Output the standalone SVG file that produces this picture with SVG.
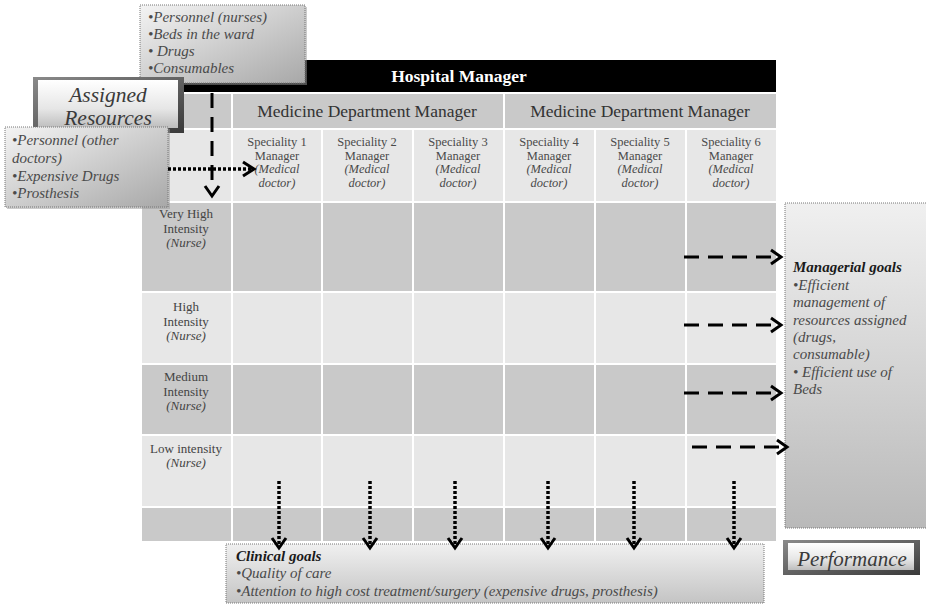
<svg xmlns="http://www.w3.org/2000/svg" width="926" height="606" viewBox="0 0 926 606">
  <style>
    .dk { fill: #c9c9c9; }
    .lt { fill: #e7e7e7; }
    .serif { font-family: "Liberation Serif", "DejaVu Serif", serif; }
    .spec { font-family: "Liberation Serif", "DejaVu Serif", serif; font-size: 12.5px; fill: #4a4a4a; text-anchor: middle; }
    .spec .i { font-style: italic; }
    .row { font-family: "Liberation Serif", "DejaVu Serif", serif; font-size: 13px; fill: #444; text-anchor: middle; }
    .row .i { font-style: italic; }
    .note { font-family: "Liberation Serif", "DejaVu Serif", serif; font-style: italic; fill: #4a4a4a; }
    .dash { fill: none; stroke: #000; stroke-width: 3; stroke-dasharray: 15 9; }
    .dot { fill: none; stroke: #000; stroke-width: 3.5; stroke-dasharray: 3 2; }
    .head { fill: none; stroke: #000; stroke-width: 3; stroke-linejoin: miter; }
    .dotted-frame { stroke: #777; stroke-width: 1; stroke-dasharray: 1 1; }
  </style>
  <defs>
    <linearGradient id="gBox" x1="0" y1="0" x2="0" y2="1">
      <stop offset="0" stop-color="#f0f0f0"/>
      <stop offset="1" stop-color="#b9b9b9"/>
    </linearGradient>
    <linearGradient id="gBoxDiag" x1="0" y1="0" x2="1" y2="1">
      <stop offset="0" stop-color="#f4f4f4"/>
      <stop offset="1" stop-color="#a8a8a8"/>
    </linearGradient>
    <linearGradient id="gSoft" x1="0" y1="0" x2="0" y2="1">
      <stop offset="0" stop-color="#f0f0f0"/>
      <stop offset="1" stop-color="#c4c4c4"/>
    </linearGradient>
    <linearGradient id="gBevel" x1="0" y1="0" x2="0" y2="1">
      <stop offset="0" stop-color="#ffffff"/>
      <stop offset="0.6" stop-color="#e6e6e6"/>
      <stop offset="1" stop-color="#bdbdbd"/>
    </linearGradient>
    <linearGradient id="gFrame" x1="0" y1="0" x2="1" y2="1">
      <stop offset="0" stop-color="#8a8a8a"/>
      <stop offset="1" stop-color="#3a3a3a"/>
    </linearGradient>
  </defs>

  <!-- matrix: hospital manager bar, departments, specialities, intensity rows -->
  <g id="matrix">
    <rect x="142" y="60" width="634" height="32" fill="#000"/>
    <text x="459" y="82" class="serif" font-size="17.5" font-weight="bold" fill="#fff" text-anchor="middle">Hospital Manager</text>

    <rect class="dk" x="142" y="94" width="89" height="34"/>
    <rect class="dk" x="233" y="94" width="270" height="34"/>
    <rect class="dk" x="505" y="94" width="271" height="34"/>
    <text x="367" y="117" class="serif" font-size="17.5" fill="#333" text-anchor="middle">Medicine Department Manager</text>
    <text x="640" y="117" class="serif" font-size="17.5" fill="#333" text-anchor="middle">Medicine Department Manager</text>

    <!-- speciality row -->
    <g class="lt">
      <rect x="142" y="130" width="89" height="71"/>
      <rect x="233" y="130" width="88" height="71"/>
      <rect x="323" y="130" width="89" height="71"/>
      <rect x="414" y="130" width="89" height="71"/>
      <rect x="505" y="130" width="89" height="71"/>
      <rect x="596" y="130" width="89" height="71"/>
      <rect x="687" y="130" width="89" height="71"/>
    </g>

    <!-- intensity rows -->
    <g class="dk">
      <rect x="142" y="203" width="89" height="88"/>
      <rect x="233" y="203" width="88" height="88"/>
      <rect x="323" y="203" width="89" height="88"/>
      <rect x="414" y="203" width="89" height="88"/>
      <rect x="505" y="203" width="89" height="88"/>
      <rect x="596" y="203" width="89" height="88"/>
      <rect x="687" y="203" width="89" height="88"/>
    </g>
    <g class="lt">
      <rect x="142" y="293" width="89" height="70"/>
      <rect x="233" y="293" width="88" height="70"/>
      <rect x="323" y="293" width="89" height="70"/>
      <rect x="414" y="293" width="89" height="70"/>
      <rect x="505" y="293" width="89" height="70"/>
      <rect x="596" y="293" width="89" height="70"/>
      <rect x="687" y="293" width="89" height="70"/>
    </g>
    <g class="dk">
      <rect x="142" y="365" width="89" height="69"/>
      <rect x="233" y="365" width="88" height="69"/>
      <rect x="323" y="365" width="89" height="69"/>
      <rect x="414" y="365" width="89" height="69"/>
      <rect x="505" y="365" width="89" height="69"/>
      <rect x="596" y="365" width="89" height="69"/>
      <rect x="687" y="365" width="89" height="69"/>
    </g>
    <g class="lt">
      <rect x="142" y="436" width="89" height="70"/>
      <rect x="233" y="436" width="88" height="70"/>
      <rect x="323" y="436" width="89" height="70"/>
      <rect x="414" y="436" width="89" height="70"/>
      <rect x="505" y="436" width="89" height="70"/>
      <rect x="596" y="436" width="89" height="70"/>
      <rect x="687" y="436" width="89" height="70"/>
    </g>
    <g class="dk">
      <rect x="142" y="508" width="89" height="33"/>
      <rect x="233" y="508" width="88" height="33"/>
      <rect x="323" y="508" width="89" height="33"/>
      <rect x="414" y="508" width="89" height="33"/>
      <rect x="505" y="508" width="89" height="33"/>
      <rect x="596" y="508" width="89" height="33"/>
      <rect x="687" y="508" width="89" height="33"/>
    </g>

    <!-- speciality managers -->
    <text class="spec"><tspan x="277" y="146">Speciality 1</tspan><tspan x="277" y="159.5">Manager</tspan><tspan class="i" x="277" y="173">(Medical</tspan><tspan class="i" x="277" y="187">doctor)</tspan></text>
    <text class="spec"><tspan x="367" y="146">Speciality 2</tspan><tspan x="367" y="159.5">Manager</tspan><tspan class="i" x="367" y="173">(Medical</tspan><tspan class="i" x="367" y="187">doctor)</tspan></text>
    <text class="spec"><tspan x="458" y="146">Speciality 3</tspan><tspan x="458" y="159.5">Manager</tspan><tspan class="i" x="458" y="173">(Medical</tspan><tspan class="i" x="458" y="187">doctor)</tspan></text>
    <text class="spec"><tspan x="549" y="146">Speciality 4</tspan><tspan x="549" y="159.5">Manager</tspan><tspan class="i" x="549" y="173">(Medical</tspan><tspan class="i" x="549" y="187">doctor)</tspan></text>
    <text class="spec"><tspan x="640" y="146">Speciality 5</tspan><tspan x="640" y="159.5">Manager</tspan><tspan class="i" x="640" y="173">(Medical</tspan><tspan class="i" x="640" y="187">doctor)</tspan></text>
    <text class="spec"><tspan x="731" y="146">Speciality 6</tspan><tspan x="731" y="159.5">Manager</tspan><tspan class="i" x="731" y="173">(Medical</tspan><tspan class="i" x="731" y="187">doctor)</tspan></text>

    <!-- intensity levels -->
    <text class="row"><tspan x="186" y="218">Very High</tspan><tspan x="186" y="233">Intensity</tspan><tspan class="i" x="186" y="247">(Nurse)</tspan></text>
    <text class="row"><tspan x="186" y="311">High</tspan><tspan x="186" y="326">Intensity</tspan><tspan class="i" x="186" y="340">(Nurse)</tspan></text>
    <text class="row"><tspan x="186" y="381">Medium</tspan><tspan x="186" y="396">Intensity</tspan><tspan class="i" x="186" y="410">(Nurse)</tspan></text>
    <text class="row"><tspan x="186" y="453">Low intensity</tspan><tspan class="i" x="186" y="467">(Nurse)</tspan></text>
  </g>

  <!-- nursing resources box -->
  <g id="nurse-resources">
    <rect x="142" y="7" width="165" height="78" fill="#999" opacity="0.5"/>
    <rect x="140" y="5" width="165" height="78" fill="url(#gBoxDiag)" class="dotted-frame"/>
    <text class="note" font-size="15"><tspan x="148" y="22">•Personnel (nurses)</tspan><tspan x="148" y="39">•Beds in the ward</tspan><tspan x="148" y="56">• Drugs</tspan><tspan x="148" y="73">•Consumables</tspan></text>
  </g>

  <!-- assigned resources label -->
  <g id="assigned-resources">
    <rect x="33" y="77" width="151" height="56" fill="url(#gFrame)"/>
    <rect x="38" y="80" width="140" height="48" fill="url(#gBevel)"/>
    <text class="serif" font-size="21.5" font-style="italic" fill="#3a3a3a" text-anchor="middle"><tspan x="108" y="102">Assigned</tspan><tspan x="108" y="125">Resources</tspan></text>
  </g>

  <!-- doctors resources box -->
  <g id="doctor-resources">
    <rect x="7" y="129" width="163" height="80" fill="#999" opacity="0.5"/>
    <rect x="5" y="127" width="163" height="80" fill="url(#gBoxDiag)" class="dotted-frame"/>
    <text class="note" font-size="15"><tspan x="12" y="145">•Personnel (other</tspan><tspan x="12" y="163">doctors)</tspan><tspan x="12" y="181">•Expensive Drugs</tspan><tspan x="12" y="198">•Prosthesis</tspan></text>
  </g>

  <!-- managerial goals -->
  <g id="managerial-goals">
    <rect x="785" y="203" width="145" height="325" fill="url(#gBox)" class="dotted-frame"/>
    <text class="note" font-size="15"><tspan x="793" y="272" font-weight="bold" fill="#1a1a1a">Managerial goals</tspan><tspan x="793" y="290">•Efficient</tspan><tspan x="793" y="307">management of</tspan><tspan x="793" y="325">resources assigned</tspan><tspan x="793" y="342">(drugs,</tspan><tspan x="793" y="359">consumable)</tspan><tspan x="793" y="377">• Efficient use of</tspan><tspan x="793" y="394">Beds</tspan></text>
  </g>

  <!-- clinical goals -->
  <g id="clinical-goals">
    <rect x="226" y="544" width="538" height="59" fill="url(#gSoft)" class="dotted-frame"/>
    <text class="note" font-size="15"><tspan x="236" y="561" font-weight="bold" fill="#1a1a1a">Clinical goals</tspan><tspan x="236" y="578">•Quality of care</tspan><tspan x="236" y="596">•Attention to high cost treatment/surgery (expensive drugs, prosthesis)</tspan></text>
  </g>

  <!-- performance label -->
  <g id="performance">
    <rect x="783" y="540" width="137" height="35" fill="url(#gFrame)"/>
    <rect x="788" y="543" width="126" height="27" fill="url(#gBevel)"/>
    <text x="852" y="566" class="serif" font-size="21" font-style="italic" fill="#3a3a3a" text-anchor="middle">Performance</text>
  </g>

  <!-- connectors -->
  <g id="connectors">
    <!-- nursing resources down into ward rows -->
    <path class="dash" d="M212 93 V186"/>
    <path class="head" d="M205 186 L212 196 L219 186"/>
    <!-- doctors resources into speciality managers -->
    <path class="dot" d="M168 169 H252"/>
    <path class="head" d="M243 162 L254 169 L243 176"/>

    <!-- ward rows to managerial goals -->
    <path class="dash" d="M684 257 H775"/>
    <path class="head" d="M771 250 L781 257 L771 264"/>
    <path class="dash" d="M684 325 H775"/>
    <path class="head" d="M771 318 L781 325 L771 332"/>
    <path class="dash" d="M684 393 H775"/>
    <path class="head" d="M771 386 L781 393 L771 400"/>
    <path class="dash" d="M692 447 H781"/>
    <path class="head" d="M777 440 L787 447 L777 454"/>

    <!-- specialities to clinical goals -->
    <path class="dot" d="M279 481 V546"/>
    <path class="head" d="M272 538 L279 548 L286 538"/>
    <path class="dot" d="M370 481 V546"/>
    <path class="head" d="M363 538 L370 548 L377 538"/>
    <path class="dot" d="M455 481 V546"/>
    <path class="head" d="M448 538 L455 548 L462 538"/>
    <path class="dot" d="M548 481 V546"/>
    <path class="head" d="M541 538 L548 548 L555 538"/>
    <path class="dot" d="M634 481 V546"/>
    <path class="head" d="M627 538 L634 548 L641 538"/>
    <path class="dot" d="M734 481 V546"/>
    <path class="head" d="M727 538 L734 548 L741 538"/>
  </g>
</svg>
